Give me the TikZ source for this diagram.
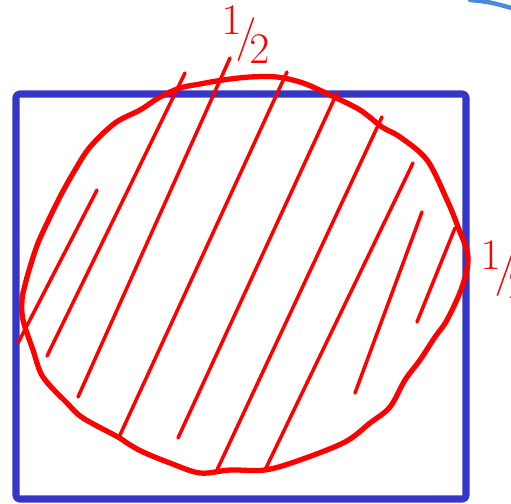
\documentclass[tikz,border=0pt]{standalone}
\usepackage{amsmath}
\usepackage{xcolor}
\usepackage{tikz}

\definecolor{penblue}{HTML}{3535C8}
\definecolor{penred}{HTML}{FF0000}
\definecolor{inkblue}{HTML}{4A8AD8}

\begin{document}
\begin{tikzpicture}[x=0.02cm, y=-0.02cm, line join=round, line cap=round]
\useasboundingbox (0,0) rectangle (511,504);

% square
\draw[penblue, line width=4pt, rounded corners=2pt] (16,94) rectangle (466,499);

% disc outline
\draw[penred, line width=3pt] plot[smooth cycle, tension=0.55] coordinates {
  (180,88) (200,84) (223,80) (250,77) (277,77) (303,83) (330,95) (360,110)
  (382,127) (400,137) (427,160) (447,200) (458,227) (468,257) (462,287)
  (447,320) (435,337) (420,360) (405,380) (390,407) (370,423) (345,442)
  (300,460) (265,470) (230,470) (200,473) (170,463) (143,452) (127,443)
  (118,437) (83,418) (67,403) (43,377) (33,350) (23,320) (22,300) (25,285)
  (30,267) (38,243) (50,217) (62,193) (75,170) (90,147) (115,123) (140,110)
  (160,97)};

% hatching
\draw[penred, line width=2pt] (97,190) -- (18,343);
\draw[penred, line width=2pt] (185,73) -- (47,356);
\draw[penred, line width=2pt] (230,58) -- (78,397);
\draw[penred, line width=2pt] (287,72) -- (120,435);
\draw[penred, line width=2pt] (337,93) -- (178,438);
\draw[penred, line width=2pt] (382,117) -- (217,470);
\draw[penred, line width=2pt] (413,163) -- (265,470);
\draw[penred, line width=2pt] (422,212) -- (355,393);
\draw[penred, line width=2pt] (455,228) -- (417,322);

% labels
\node (tophalf) [penred, inner sep=0pt] at (246,35) {\fontsize{40}{40}\selectfont$^1\!/\!_2$};
\node (sidehalf) [penred, inner sep=0pt] at (505,270) {\fontsize{40}{40}\selectfont$^1\!/\!_2$};

% stray arc
\draw[inkblue, line width=2.5pt] (470,0) .. controls (490,2) .. (515,9);
\end{tikzpicture}
\end{document}
